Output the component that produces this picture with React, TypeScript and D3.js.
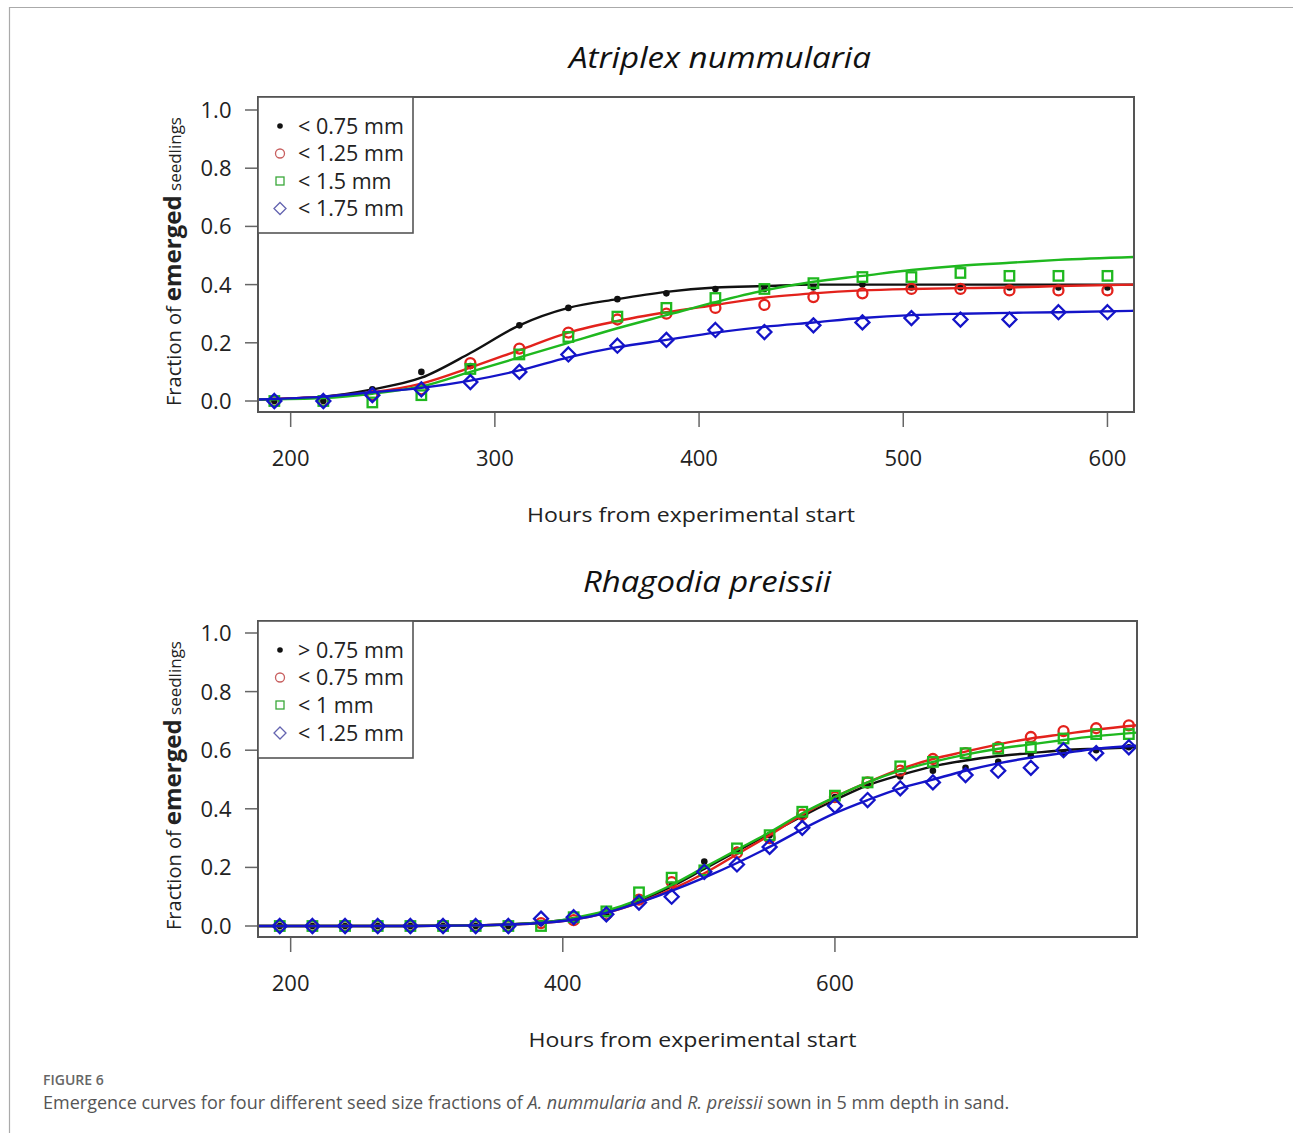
import React from "react";
import * as d3 from "d3";

// ---------- DATA ----------
const topHours = [192, 216, 240, 264, 288, 312, 336, 360, 384, 408, 432, 456, 480, 504, 528, 552, 576, 600];
const topBlack = [0, 0, 0.04, 0.1, 0.12, 0.26, 0.32, 0.35, 0.37, 0.385, 0.385, 0.39, 0.4, 0.39, 0.39, 0.39, 0.39, 0.39];
const topRed = [0, 0, 0.02, 0.04, 0.13, 0.18, 0.235, 0.28, 0.3, 0.32, 0.33, 0.357, 0.37, 0.385, 0.385, 0.38, 0.38, 0.38];
const topGreen = [0, 0, -0.005, 0.02, 0.11, 0.16, 0.22, 0.29, 0.32, 0.354, 0.385, 0.405, 0.426, 0.426, 0.44, 0.43, 0.43, 0.43];
const topBlue = [0, 0, 0.02, 0.04, 0.065, 0.1, 0.16, 0.19, 0.21, 0.244, 0.237, 0.26, 0.27, 0.285, 0.28, 0.28, 0.305, 0.305];

const topCurveHours = [184, 216, 240, 264, 288, 312, 336, 360, 384, 408, 432, 456, 480, 504, 528, 552, 576, 613];
const topCurveBlack = [0.005, 0.015, 0.04, 0.08, 0.165, 0.26, 0.32, 0.35, 0.375, 0.39, 0.395, 0.4, 0.4, 0.4, 0.4, 0.4, 0.4, 0.4];
const topCurveRed = [0.005, 0.015, 0.03, 0.06, 0.115, 0.175, 0.235, 0.275, 0.305, 0.33, 0.355, 0.37, 0.38, 0.385, 0.388, 0.39, 0.395, 0.4];
const topCurveGreen = [0.005, 0.01, 0.025, 0.05, 0.1, 0.15, 0.2, 0.25, 0.295, 0.34, 0.38, 0.41, 0.43, 0.45, 0.465, 0.475, 0.485, 0.495];
const topCurveBlue = [0.005, 0.015, 0.03, 0.045, 0.07, 0.105, 0.15, 0.185, 0.21, 0.235, 0.255, 0.27, 0.285, 0.295, 0.3, 0.303, 0.305, 0.31];

const botHours = [192, 216, 240, 264, 288, 312, 336, 360, 384, 408, 432, 456, 480, 504, 528, 552, 576, 600, 624, 648, 672, 696, 720, 744, 768, 792, 816];
const botBlack = [0, 0, 0, 0, 0, 0, 0, 0, 0.01, 0.02, 0.04, 0.09, 0.14, 0.22, 0.26, 0.31, 0.37, 0.44, 0.48, 0.51, 0.53, 0.54, 0.56, 0.58, 0.59, 0.6, 0.61];
const botRed = [0, 0, 0, 0, 0, 0, 0, 0, 0.01, 0.02, 0.04, 0.09, 0.15, 0.19, 0.25, 0.3, 0.38, 0.44, 0.49, 0.53, 0.57, 0.59, 0.61, 0.645, 0.665, 0.675, 0.685];
const botGreen = [0, 0, 0, 0, 0, 0, 0, 0, 0, 0.03, 0.05, 0.115, 0.165, 0.19, 0.265, 0.31, 0.39, 0.445, 0.49, 0.545, 0.56, 0.59, 0.605, 0.61, 0.64, 0.655, 0.655];
const botBlue = [0, 0, 0, 0, 0, 0, 0, 0, 0.025, 0.03, 0.04, 0.08, 0.1, 0.185, 0.21, 0.27, 0.335, 0.41, 0.43, 0.47, 0.49, 0.515, 0.53, 0.54, 0.6, 0.59, 0.61];

const botCurveHours = [176, 200, 240, 288, 336, 360, 384, 408, 432, 456, 480, 504, 528, 552, 576, 600, 624, 648, 672, 696, 720, 744, 768, 792, 822];
const botCurveBlack = [0, 0, 0, 0, 0.002, 0.005, 0.012, 0.025, 0.05, 0.085, 0.135, 0.195, 0.255, 0.315, 0.375, 0.43, 0.48, 0.515, 0.545, 0.565, 0.58, 0.59, 0.6, 0.605, 0.61];
const botCurveRed = [0, 0, 0, 0, 0.002, 0.005, 0.01, 0.022, 0.045, 0.08, 0.125, 0.18, 0.245, 0.31, 0.38, 0.44, 0.49, 0.535, 0.57, 0.595, 0.62, 0.64, 0.655, 0.67, 0.685];
const botCurveGreen = [0, 0, 0, 0, 0.002, 0.005, 0.012, 0.027, 0.052, 0.09, 0.14, 0.2, 0.26, 0.32, 0.385, 0.44, 0.49, 0.53, 0.56, 0.585, 0.605, 0.62, 0.635, 0.648, 0.66];
const botCurveBlue = [0, 0, 0, 0, 0.002, 0.005, 0.01, 0.022, 0.045, 0.08, 0.12, 0.165, 0.215, 0.27, 0.33, 0.385, 0.43, 0.47, 0.5, 0.53, 0.555, 0.575, 0.59, 0.605, 0.615];

const topLegend = ["< 0.75 mm", "< 1.25 mm", "< 1.5 mm", "< 1.75 mm"];
const botLegend = ["> 0.75 mm", "< 0.75 mm", "< 1 mm", "< 1.25 mm"];
const topXTicks = [200, 300, 400, 500, 600];
const botXTicks = [200, 400, 600];
const yTicks = [0, 0.2, 0.4, 0.6, 0.8, 1.0];

const seriesColors = ["#111111", "#e3221c", "#1fb81f", "#1414c8"];
const legendColors = ["#111111", "#c86060", "#3aa83a", "#6464b0"];
const shapes = ["dot", "circle", "square", "diamond"];

const FONT = "'Open Sans', 'DejaVu Sans', sans-serif";

function Marker({ shape, x, y, color, legend }: any) {
  const sw = legend ? 1.3 : 2.3;
  if (shape === "dot") return <circle cx={x} cy={y} r={legend ? 2.8 : 3.3} fill={color} />;
  if (shape === "circle") return <circle cx={x} cy={y} r={legend ? 4.5 : 5} fill="none" stroke={color} strokeWidth={sw} />;
  if (shape === "square") {
    const s = legend ? 8 : 9.5;
    return <rect x={x - s / 2} y={y - s / 2} width={s} height={s} fill="none" stroke={color} strokeWidth={sw} />;
  }
  const d = legend ? 6 : 7;
  return <path d={`M${x},${y - d}L${x + d},${y}L${x},${y + d}L${x - d},${y}Z`} fill="none" stroke={color} strokeWidth={sw} />;
}

function Panel({ id, title, titleX, titleLen, frame, xDomain, yRange, xTicks, hours, points, curveHours, curves, legend, legendBox, legendRows }: any) {
  const x = d3.scaleLinear().domain(xDomain).range([frame.left, frame.right]);
  const y = d3.scaleLinear().domain([0, 1]).range(yRange);
  const line = d3.line<[number, number]>().x((d) => x(d[0])).y((d) => y(d[1])).curve(d3.curveMonotoneX);
  const yMid = (y(0) + y(1)) / 2 + 6;
  return (
    <g>
      <defs>
        <clipPath id={`clip-${id}`}>
          <rect x={frame.left} y={frame.top} width={frame.right - frame.left} height={frame.bottom - frame.top} />
        </clipPath>
      </defs>
      <text x={titleX} y={frame.top - 29} textAnchor="middle" fontFamily={FONT} fontStyle="italic" fontSize={30} fill="#111" textLength={titleLen} lengthAdjust="spacingAndGlyphs">{title}</text>
      {/* y ticks */}
      {yTicks.map((t) => (
        <g key={t}>
          <line x1={frame.left - 13} x2={frame.left} y1={y(t)} y2={y(t)} stroke="#666" strokeWidth={1.5} />
          <text x={216} y={y(t)} dy="0.36em" textAnchor="middle" fontFamily={FONT} fontSize={22} fill="#222">{t.toFixed(1)}</text>
        </g>
      ))}
      {/* x ticks */}
      {xTicks.map((t: number) => (
        <g key={t}>
          <line x1={x(t)} x2={x(t)} y1={frame.bottom} y2={frame.bottom + 15} stroke="#666" strokeWidth={1.5} />
          <text x={x(t)} y={frame.bottom + 54} textAnchor="middle" fontFamily={FONT} fontSize={22} fill="#222">{t}</text>
        </g>
      ))}
      <text x={(frame.left + frame.right) / 2 - 5} y={frame.bottom + 110} textAnchor="middle" fontFamily={FONT} fontSize={20} fill="#222" textLength={328} lengthAdjust="spacingAndGlyphs">Hours from experimental start</text>
      <text transform={`translate(181,${yMid}) rotate(-90)`} textAnchor="middle" fontFamily={FONT} fill="#222">
        <tspan fontSize={20}>Fraction of </tspan>
        <tspan fontSize={24} fontWeight="bold">emerged</tspan>
        <tspan fontSize={17}> seedlings</tspan>
      </text>
      {/* data */}
      <g clipPath={`url(#clip-${id})`}>
        {points.map((vals: number[], si: number) => (
          <g key={si}>
            {vals.map((v, i) => (
              <Marker key={i} shape={shapes[si]} x={x(hours[i])} y={y(v)} color={seriesColors[si]} />
            ))}
            <path d={line(curveHours.map((h: number, i: number) => [h, curves[si][i]]))!} fill="none" stroke={seriesColors[si]} strokeWidth={2.4} />
          </g>
        ))}
      </g>
      {/* frame */}
      <rect x={frame.left} y={frame.top} width={frame.right - frame.left} height={frame.bottom - frame.top} fill="none" stroke="#555" strokeWidth={2} />
      {/* legend */}
      <rect x={legendBox.x} y={legendBox.y} width={legendBox.w} height={legendBox.h} fill="#fff" stroke="#555" strokeWidth={1.6} />
      {legend.map((lab: string, i: number) => (
        <g key={lab}>
          <Marker shape={shapes[i]} x={280} y={legendRows[i]} color={legendColors[i]} legend />
          <text x={298} y={legendRows[i]} dy="0.36em" fontFamily={FONT} fontSize={21.5} fill="#222">{lab}</text>
        </g>
      ))}
    </g>
  );
}

export default function App() {
  return (
    <svg width={1293} height={1133} style={{ display: "block", position: "absolute", left: 0, top: 0, background: "#fff" }}>
      <rect x={0} y={0} width={1293} height={1133} fill="#fff" />
      <path d="M9.5,1133 V7.5 H1293" fill="none" stroke="#aaa" strokeWidth={1.2} />
      <Panel
        id="top"
        title="Atriplex nummularia"
        titleX={720}
        titleLen={302}
        frame={{ left: 258, right: 1134, top: 97, bottom: 412 }}
        xDomain={[184, 613]}
        yRange={[401, 110]}
        xTicks={topXTicks}
        hours={topHours}
        points={[topBlack, topRed, topGreen, topBlue]}
        curveHours={topCurveHours}
        curves={[topCurveBlack, topCurveRed, topCurveGreen, topCurveBlue]}
        legend={topLegend}
        legendBox={{ x: 258, y: 97, w: 155, h: 136 }}
        legendRows={[126, 153.5, 181, 208.5]}
      />
      <Panel
        id="bot"
        title="Rhagodia preissii"
        titleX={707}
        titleLen={248}
        frame={{ left: 258, right: 1137, top: 621, bottom: 937 }}
        xDomain={[176, 822]}
        yRange={[926, 633]}
        xTicks={botXTicks}
        hours={botHours}
        points={[botBlack, botRed, botGreen, botBlue]}
        curveHours={botCurveHours}
        curves={[botCurveBlack, botCurveRed, botCurveGreen, botCurveBlue]}
        legend={botLegend}
        legendBox={{ x: 258, y: 621, w: 155, h: 137 }}
        legendRows={[650, 677.5, 705, 733]}
      />
      <text x={43} y={1085} fontFamily={FONT} fontSize={14} fontWeight={600} fill="#666">FIGURE 6</text>
      <text x={43} y={1109} fontFamily={FONT} fontSize={18} fill="#555">
        Emergence curves for four different seed size fractions of <tspan fontStyle="italic">A. nummularia</tspan> and <tspan fontStyle="italic">R. preissii</tspan> sown in 5 mm depth in sand.
      </text>
    </svg>
  );
}
